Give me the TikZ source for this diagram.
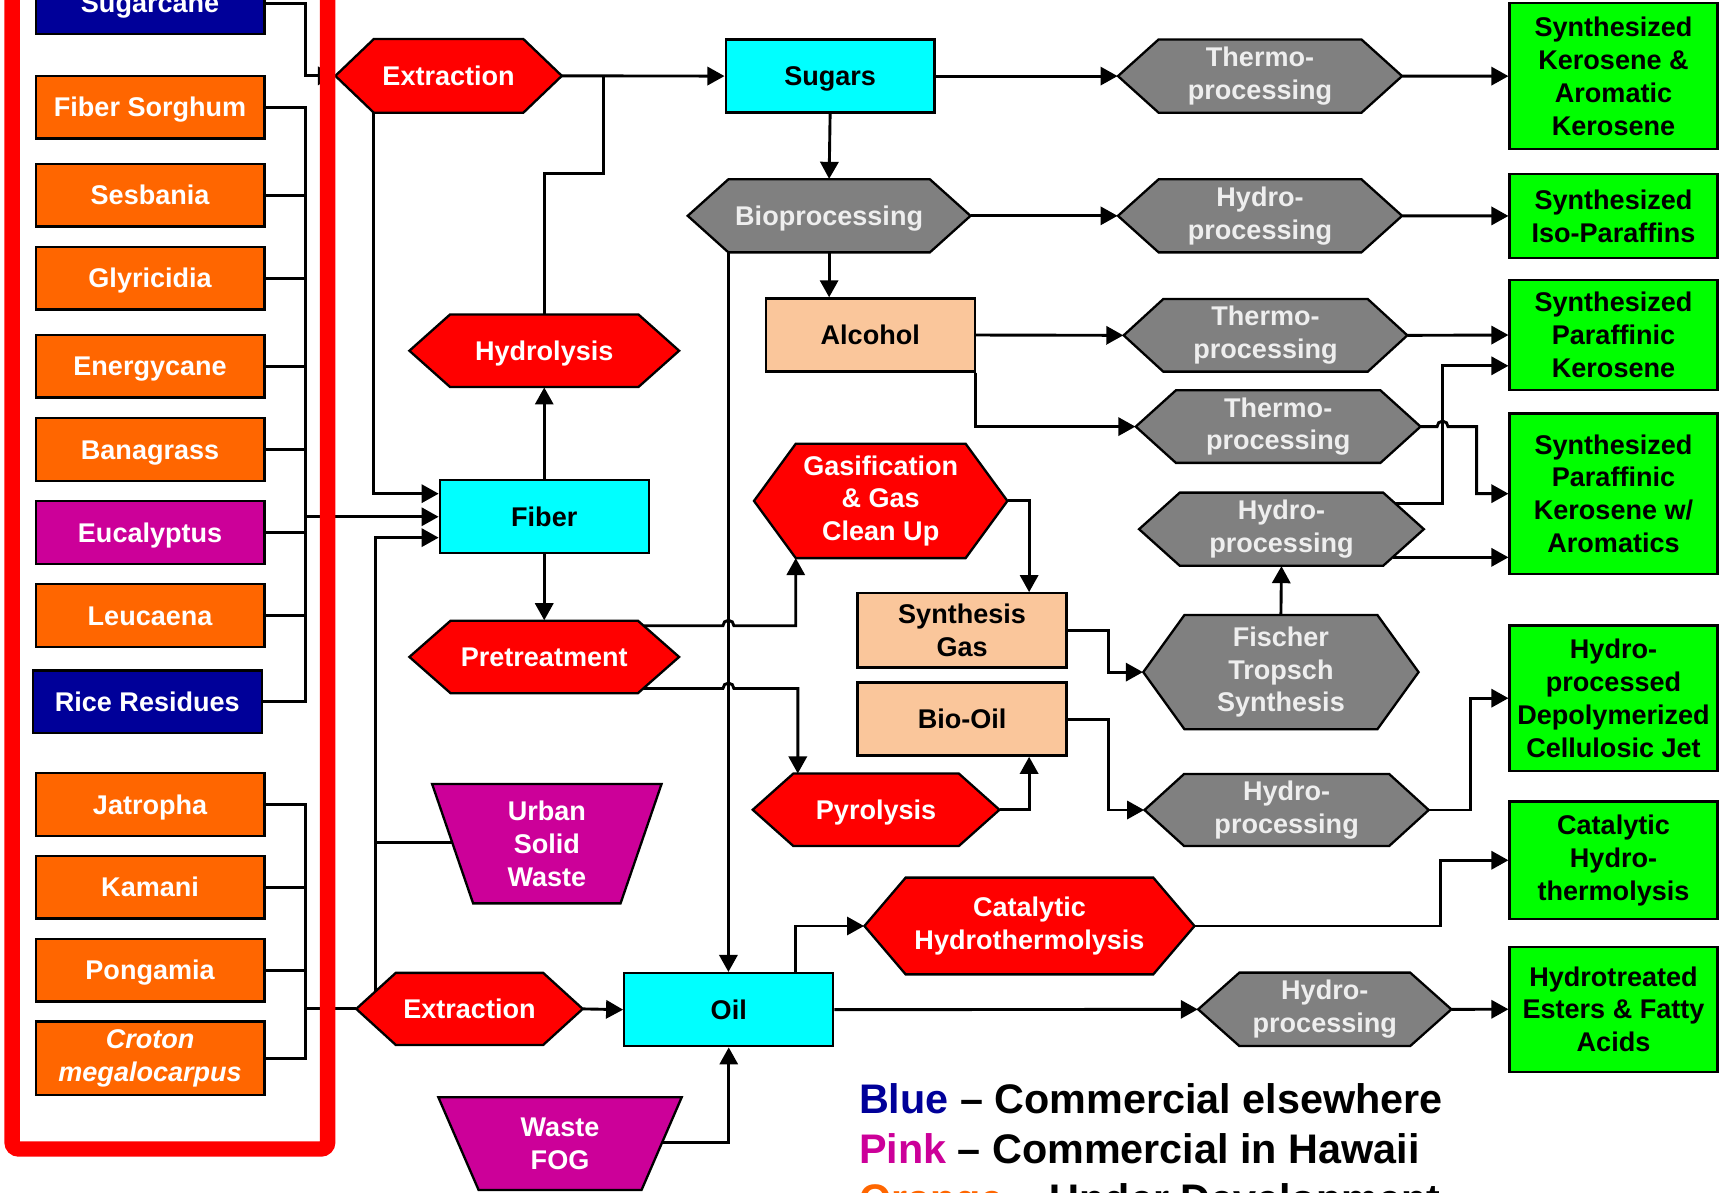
\documentclass[tikz,border=0pt]{standalone}
\usepackage{fontspec}
\setmainfont{Liberation Sans}
\usetikzlibrary{arrows.meta,calc}
\newdimen\pxu \pxu=0.02cm
\definecolor{dblue}{RGB}{0,0,153}
\definecolor{orng}{RGB}{255,102,0}
\definecolor{mgnt}{RGB}{204,0,153}
\definecolor{rd}{RGB}{255,0,0}
\definecolor{cyn}{RGB}{0,255,255}
\definecolor{grn}{RGB}{0,255,0}
\definecolor{pch}{RGB}{250,198,155}
\definecolor{gry}{RGB}{128,128,128}
\definecolor{gtxt}{RGB}{238,238,238}
% hexagon: name, cx, cy, w, h, inset, style, text
\newcommand\HexNode[8]{%
  \filldraw[shapeline,#7] ({#2-#4/2},#3) -- ({#2-#4/2+#6},{#3-#5/2}) -- ({#2+#4/2-#6},{#3-#5/2}) -- ({#2+#4/2},#3) -- ({#2+#4/2-#6},{#3+#5/2}) -- ({#2-#4/2+#6},{#3+#5/2}) -- cycle;
  \coordinate (#1-tl) at ({#2-#4/2+#6},{#3-#5/2});
  \coordinate (#1-tr) at ({#2+#4/2-#6},{#3-#5/2});
  \coordinate (#1-bl) at ({#2-#4/2+#6},{#3+#5/2});
  \coordinate (#1-br) at ({#2+#4/2-#6},{#3+#5/2});
  \node[txt,#7,draw=none,fill=none,minimum width=#4\pxu,minimum height=#5\pxu] (#1) at (#2,#3) {#8};
}
% trapezoid: name, topY, botY, tlx, trx, blx, brx, style, text
\newcommand\TrapNode[9]{%
  \filldraw[shapeline,#8] (#4,#2) -- (#5,#2) -- (#7,#3) -- (#6,#3) -- cycle;
  \coordinate (#1-tl) at (#4,#2);
  \coordinate (#1-tr) at (#5,#2);
  \coordinate (#1-bl) at (#6,#3);
  \coordinate (#1-br) at (#7,#3);
  \node[txt,#8,draw=none,fill=none] (#1) at ({(#4+#5)/2},{(#2+#3)/2}) {#9};
}
\begin{document}
\begin{tikzpicture}[x=0.02cm,y=-0.02cm,
  conn/.style={draw=black,line width=1.5pt},
  arr/.style={conn,-{Triangle[length=0.31cm,width=0.33cm]}},
  shapeline/.style={draw=black,line width=1.2pt},
  txt/.style={font=\fontsize{14}{17}\selectfont\bfseries,align=center,inner sep=0pt},
  one/.style={text height=10pt,text depth=0pt},
  src/.style={shapeline,txt,one,rectangle,text=white,minimum width=208\pxu,minimum height=57\pxu},
  midbox/.style={shapeline,txt,one,rectangle,fill=cyn,text=black,minimum width=190\pxu,minimum height=66.5\pxu},
  peachbox/.style={shapeline,txt,rectangle,fill=pch,text=black,minimum width=190\pxu,minimum height=66.5\pxu},
  prod/.style={shapeline,txt,rectangle,fill=grn,text=black,minimum width=189\pxu},
  redhex/.style={fill=rd,text=white},
  grayhex/.style={fill=gry,text=gtxt},
  pinktrap/.style={fill=mgnt,text=white},
  legend/.style={font=\fontsize{21.4}{25}\selectfont\bfseries,inner sep=0pt,anchor=base west},
  framebar/.style={draw=rd,line width=14\pxu,rounded corners=6\pxu}]
\useasboundingbox (0,0) rectangle (1568,1085);
\clip (0,0) rectangle (1568,1085);

% ---------------- feedstocks ----------------
\node[src,fill=dblue,minimum height=56\pxu] (sugarcane) at (136.5,3) {Sugarcane};
\node[src,fill=orng] (fsorghum) at (136.5,97.5) {Fiber Sorghum};
\node[src,fill=orng] (sesbania) at (136.5,177.5) {Sesbania};
\node[src,fill=orng] (glyricidia) at (136.5,253) {Glyricidia};
\node[src,fill=orng] (energycane) at (136.5,333) {Energycane};
\node[src,fill=orng] (banagrass) at (136.5,408.8) {Banagrass};
\node[src,fill=mgnt] (eucalyptus) at (136.5,484.3) {Eucalyptus};
\node[src,fill=orng] (leucaena) at (136.5,559.8) {Leucaena};
\node[src,fill=dblue] (rice) at (134,638.2) {Rice Residues};
\node[src,fill=orng] (jatropha) at (136.5,731.7) {Jatropha};
\node[src,fill=orng] (kamani) at (136.5,807) {Kamani};
\node[src,fill=orng] (pongamia) at (136.5,882.5) {Pongamia};
\node[shapeline,txt,rectangle,text=white,minimum width=208\pxu,fill=orng,minimum height=67\pxu,font=\fontsize{14}{17}\selectfont\bfseries\itshape] (croton) at (136.5,962.5) {Croton\\megalocarpus};

% ---------------- process nodes ----------------
\HexNode{ext1}{408}{69}{206}{67}{35}{redhex,one}{Extraction}
\node[midbox] (sugars) at (755,69.2) {Sugars};
\HexNode{hydrolysis}{495}{319}{245.3}{66}{37}{redhex,one}{Hydrolysis}
\node[midbox] (fiber) at (495,470) {Fiber};
\HexNode{pretreat}{495}{597.5}{245.3}{66}{37.5}{redhex,one}{Pretreatment}
\HexNode{bio}{754.1}{196.3}{257.2}{66.5}{37}{grayhex,one}{Bioprocessing}
\node[peachbox,one] (alcohol) at (791.5,304.7) {Alcohol};
\HexNode{gas}{801}{455.6}{230.5}{104}{38}{redhex}{Gasification\\\& Gas\\Clean Up}
\node[peachbox,minimum height=67.6\pxu] (syngas) at (875,573.4) {Synthesis\\Gas};
\node[peachbox,one] (biooil) at (875,654) {Bio-Oil};
\HexNode{pyro}{796.8}{736.5}{224.4}{66}{37}{redhex,one}{Pyrolysis}
\TrapNode{usw}{713}{821.6}{393}{601.7}{430.3}{564.4}{pinktrap}{Urban\\Solid\\Waste}
\HexNode{ext2}{427}{917.6}{206}{65.6}{36}{redhex,one}{Extraction}
\node[midbox] (oil) at (662.8,918.3) {Oil};
\TrapNode{fog}{998}{1082.3}{398.7}{620}{435.3}{583.5}{pinktrap}{Waste\\FOG}
\HexNode{ch}{936.3}{842.2}{300.2}{88}{37.5}{redhex}{Catalytic\\Hydrothermolysis}

\HexNode{th1}{1146}{69.2}{258.4}{66.7}{37}{grayhex}{Thermo-\\processing}
\HexNode{hy1}{1146}{196.3}{258.4}{66.5}{37}{grayhex}{Hydro-\\processing}
\HexNode{th2}{1151}{305}{258}{66}{36}{grayhex}{Thermo-\\processing}
\HexNode{th3}{1162.5}{388}{259}{66}{36.5}{grayhex}{Thermo-\\processing}
\HexNode{hy2}{1165.5}{481.3}{259}{66.5}{37}{grayhex}{Hydro-\\processing}
\HexNode{ft}{1165}{611.3}{250.4}{104}{37.5}{grayhex}{Fischer\\Tropsch\\Synthesis}
\HexNode{hy3}{1170.2}{736.7}{258.5}{65.5}{36}{grayhex}{Hydro-\\processing}
\HexNode{hy4}{1204.9}{918}{230.3}{66.8}{37.5}{grayhex}{Hydro-\\processing}

% ---------------- products ----------------
\node[prod,minimum height=132.5\pxu] (g1) at (1467.5,69.25) {Synthesized\\Kerosene \&\\Aromatic\\Kerosene};
\node[prod,minimum height=76\pxu] (g2) at (1467.5,196.4) {Synthesized\\Iso-Paraffins};
\node[prod,minimum height=100\pxu] (g3) at (1467.5,304.7) {Synthesized\\Paraffinic\\Kerosene};
\node[prod,minimum height=146\pxu] (g4) at (1467.5,449) {Synthesized\\Paraffinic\\Kerosene w/\\Aromatics};
\node[prod,minimum height=132\pxu] (g5) at (1467.5,635) {Hydro-\\processed\\Depolymerized\\Cellulosic Jet};
\node[prod,minimum height=106.8\pxu] (g6) at (1467.5,782.4) {Catalytic\\Hydro-\\thermolysis};
\node[prod,minimum height=113.7\pxu] (g7) at (1467.5,917.9) {Hydrotreated\\Esters \& Fatty\\Acids};

% ---------------- connectors: feedstocks ----------------
\coordinate (busA) at (277.5,470);
\coordinate (busB) at (277.5,917.6);
\foreach \n in {fsorghum,sesbania,glyricidia,energycane,banagrass,eucalyptus,leucaena,rice}
  \draw[conn] (\n.east) -| (busA);
\draw[arr] (busA) -- (fiber.west);
\foreach \n in {jatropha,kamani,pongamia,croton}
  \draw[conn] (\n.east) -| (busB);
\draw[conn] (busB) -- (ext2.west);
\draw[arr] (sugarcane.east) -| (busA |- ext1.west) -- (ext1.west);

% ---------------- connectors: left half ----------------
\draw[arr] (ext1.east) -- (sugars.west);
\coordinate (hjA) at (549,158);
\draw[conn] (hydrolysis.north) |- (hjA) -- (hjA |- sugars.west);
\draw[arr] (ext1-bl) |- ([yshift=21\pxu]fiber.west);
\coordinate (e2up) at ($(ext2.west)!0.5!(ext2-tl)$);
\draw[arr] (e2up) |- ([yshift=-19\pxu]fiber.west);
\coordinate (uL) at ($(usw-tl)!0.488!(usw-bl)$);
\draw[conn] (uL) -- (uL -| e2up);
\draw[arr] (fiber.north) -- (hydrolysis.south);
\draw[arr] (fiber.south) -- (pretreat.north);
\draw[arr] (sugars.south) -- (bio.north);
\draw[arr] (bio.south) -- (bio.south |- alcohol.north);
\draw[arr] (bio-bl) -- (bio-bl |- oil.north);
\coordinate (pA) at ($(pretreat-tr)!0.14!(pretreat.east)$);
\coordinate (pB) at ($(pretreat.east)!0.87!(pretreat-br)$);
\draw[arr] (pA) -- ($(pA -| bio-bl)+(-5,0)$) arc[start angle=180,end angle=0,radius=5\pxu] -- (pA -| gas-bl) -- (gas-bl);
\draw[arr] (pB) -- ($(pB -| bio-bl)+(-5,0)$) arc[start angle=180,end angle=0,radius=5\pxu] -- ($(pB -| pyro-tl)+(4,0)$) -- ($(pyro-tl)+(4,0)$);
\draw[arr] (gas.east) -| ([xshift=61\pxu]syngas.north);
\draw[arr] (pyro.east) -| ([xshift=61\pxu]biooil.south);
\draw[arr] (ext2.east) -- (oil.west);
\coordinate (fA) at ($(fog-tr)!0.49!(fog-br)$);
\draw[arr] (fA) -| (oil.south);
\draw[arr] ([xshift=61\pxu]oil.north) |- (ch.west);
\draw[arr] (oil.east) -- (hy4.west);

% ---------------- connectors: right half ----------------
\draw[arr] (sugars.east) -- (th1.west);
\draw[arr] (th1.east) -- (g1.west);
\draw[arr] (bio.east) -- (hy1.west);
\draw[arr] (hy1.east) -- (g2.west);
\draw[arr] (alcohol.east) -- (th2.west);
\draw[arr] (th2.east) -- (g3.west);
\draw[arr] (alcohol.south east) |- (th3.west);
\coordinate (vx) at (1312,0);
\draw[arr] (th3.east) -- ($(th3.east -| vx)+(-5,0)$) arc[start angle=180,end angle=0,radius=5\pxu] -- ++(26,0) |- (g4.west);
\coordinate (hA) at ($(hy2-tr)!0.29!(hy2.east)$);
\coordinate (hB) at ($(hy2.east)!0.77!(hy2-br)$);
\draw[arr] (hA) -- (hA -| vx) |- ([yshift=-28\pxu]g3.west);
\draw[arr] (hB) -- (hB -| g4.west);
\draw[arr] (ft.north) -- (hy2.south);
\draw[arr] (syngas.east) -- ++(37,0) |- (ft.west);
\draw[arr] (biooil.east) -- ++(37,0) |- (hy3.west);
\draw[arr] (hy3.east) -- ++(38,0) |- (g5.west);
\draw[arr] (ch.east) -- ++(223,0) |- (g6.west);
\draw[arr] (hy4.east) -- (g7.west);

% ---------------- frame ----------------
\draw[framebar] (11,-40) -- (11,1045) -- (298,1045) -- (298,-40);

% ---------------- legend ----------------
\node[legend] (legb) at (781,1012.6) {\textcolor{dblue}{Blue} – Commercial elsewhere};
\node[legend] (legp) at (781,1058) {\textcolor{mgnt}{Pink} – Commercial in Hawaii};
\node[legend] (lego) at (781,1103.5) {\textcolor{orng}{Orange} – Under Development};
\end{tikzpicture}
\end{document}
